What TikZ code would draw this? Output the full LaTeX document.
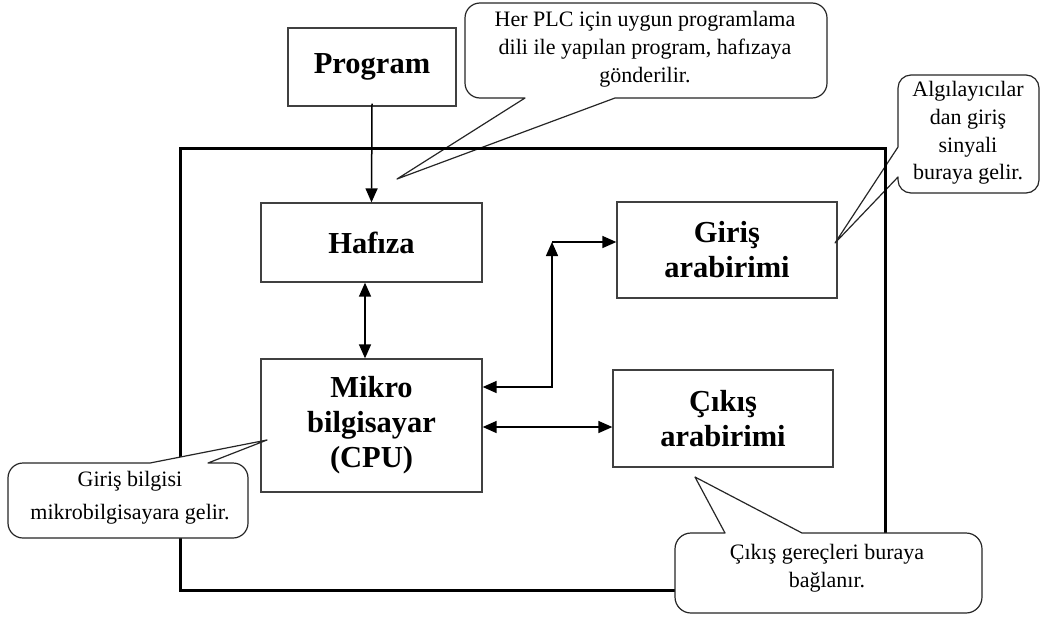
\documentclass[tikz,border=0pt]{standalone}
\usepackage{fontspec}
\setmainfont{Liberation Serif}
\usetikzlibrary{arrows.meta}
\begin{document}
\begin{tikzpicture}[x=1pt,y=-1pt,
  box/.style={draw=black!75, line width=1.3pt, fill=white, align=center,
    font=\bfseries\fontsize{30.5}{35}\selectfont, inner sep=0pt},
  link/.style={line width=1.5pt, black},
  tip/.style={-{Triangle[length=14pt,width=12pt]}},
  tips/.style={{Triangle[length=14pt,width=12pt]}-{Triangle[length=14pt,width=12pt]}},
  bubble/.style={draw=black!85, line width=1.2pt, fill=white, line join=round},
  note/.style={align=center, font=\fontsize{22}{28}\selectfont, inner sep=0pt},
  frame/.style={line width=3pt, black}]
\useasboundingbox (0,0) rectangle (1043,616);

% blocks
\node[box, minimum width=168pt, minimum height=78pt] (prog) at (372,67) {Program};
\node[box, minimum width=221pt, minimum height=79pt] (haf) at (371.5,242.5) {Hafıza};
\node[box, minimum width=221pt, minimum height=133pt] (cpu) at (371.5,425.5) {Mikro\\bilgisayar\\(CPU)};
\node[box, minimum width=220pt, minimum height=96pt] (gir) at (727,250) {Giriş\\arabirimi};
\node[box, minimum width=220pt, minimum height=97pt] (cik) at (723,418.5) {Çıkış\\arabirimi};

% connections
\coordinate (bend) at (552,242);
\draw[link,tip] ([yshift=3pt]prog.south) -- (haf.north);
\draw[link,tips] ([xshift=-6.5pt]haf.south) -- ([xshift=-6.5pt]cpu.north);
\draw[link,tips] (cpu.east |- 0,387) -| (bend);
\draw[link,tip] (bend) -- (gir.west |- bend);
\draw[link,tips] (cpu.east |- 0,427) -- (cik.west |- 0,427);

% upper callouts
\draw[bubble] (525,98) [sharp corners] -- (397,179) -- (615,98)
  [rounded corners=15pt] -- (827,98) -- (827,3) -- (465,3) -- (465,98) [sharp corners] -- cycle;
\node[note] (n1) at (645,49.5) {Her PLC için uygun programlama\\dili ile yapılan program, hafızaya\\gönderilir.};

\draw[bubble] (898,177) [sharp corners] -- (835,243) -- (898,147)
  [rounded corners=13pt] -- (898,75) -- (1039,75) -- (1039,193) -- (898,193) [sharp corners] -- cycle;
\node[note, font=\fontsize{22}{27.7}\selectfont] (n2) at (968,133) {Algılayıcılar\\dan giriş\\sinyali\\buraya gelir.};

% enclosure
\draw[frame] (180,148) rectangle (885,590);

% lower callouts
\draw[bubble] (150,463) [sharp corners] -- (267,440) -- (208,463)
  [rounded corners=15pt] -- (248,463) -- (248,538) -- (8,538) -- (8,463) [sharp corners] -- cycle;
\node[note] (n3) at (130,498) {Giriş bilgisi\\[5pt]mikrobilgisayara gelir.};

\draw[bubble] (725,533) [sharp corners] -- (695,477) -- (802,533)
  [rounded corners=16pt] -- (982,533) -- (982,613) -- (675,613) -- (675,533) [sharp corners] -- cycle;
\node[note] (n4) at (827,568.5) {Çıkış gereçleri buraya\\bağlanır.};
\end{tikzpicture}
\end{document}
